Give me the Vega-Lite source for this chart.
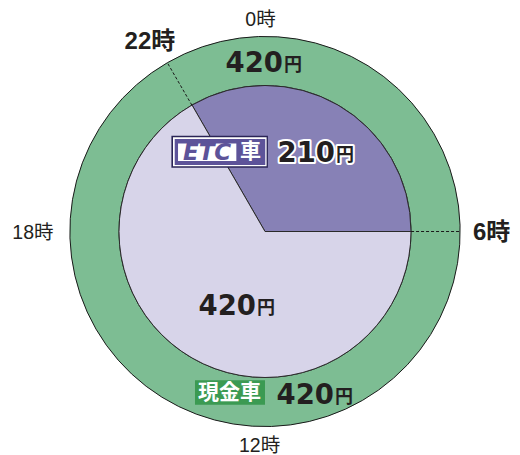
{
  "$schema": "https://vega.github.io/schema/vega-lite/v6.json",
  "width": 520,
  "height": 455,
  "autosize": {"type": "fit", "contains": "padding"},
  "padding": {"left": 10, "top": 9, "right": 0, "bottom": 0},
  "background": "white",
  "config": {"view": {"stroke": null}},
  "datasets": {
    "cash": [{"car": "現金車", "hours": 24, "fare": 420}],
    "etc": [
      {"car": "ETC車", "period": "22時〜6時", "hours": 8, "fare": 210, "order": 1},
      {"car": "ETC車", "period": "6時〜22時", "hours": 16, "fare": 420, "order": 2}
    ],
    "bounds": [
      {"hour": 6, "x": 0.749, "y": 0, "x2": 1, "y2": 0},
      {"hour": 22, "x": -0.3745, "y": 0.6486, "x2": -0.5, "y2": 0.866}
    ],
    "hours": [
      {"label": "0時", "kind": "quarter", "x": -0.023, "y": 1.056},
      {"label": "12時", "kind": "quarter", "x": -0.028, "y": -1.131},
      {"label": "18時", "kind": "quarter", "x": -1.19, "y": -0.036},
      {"label": "22時", "kind": "boundary", "x": -0.59, "y": 0.937},
      {"label": "6時", "kind": "boundary", "x": 1.162, "y": -0.044}
    ],
    "fares": [
      {"where": "ring-top", "fare": "420", "x": 0.0923, "y": 0.8205},
      {"where": "etc-night", "fare": "210", "x": 0.359, "y": 0.359},
      {"where": "etc-day", "fare": "420", "x": -0.0462, "y": -0.4308},
      {"where": "ring-bottom", "fare": "420", "x": 0.3538, "y": -0.8872}
    ],
    "badges": [
      {"part": "frame", "x": -0.48, "x2": 0.015, "y": 0.492, "y2": 0.328},
      {"part": "rim", "x": -0.4718, "x2": 0.0082, "y": 0.4841, "y2": 0.3359},
      {"part": "panel", "x": -0.463, "x2": 0.0015, "y": 0.4754, "y2": 0.3421},
      {"part": "plate", "x": -0.446, "x2": -0.147, "y": 0.4528, "y2": 0.3626},
      {"part": "cash", "x": -0.359, "x2": 0, "y": -0.764, "y2": -0.891}
    ],
    "badgeText": [
      {"text": "ETC", "x": -0.297, "y": 0.366},
      {"text": "車", "x": -0.0744, "y": 0.407},
      {"text": "現金車", "x": -0.182, "y": -0.828}
    ]
  },
  "layer": [
    {
      "data": {"name": "cash"},
      "mark": {"type": "arc", "innerRadius": 146, "outerRadius": 195, "fill": "#7dbd93", "stroke": "#1a1a1a", "strokeWidth": 1},
      "encoding": {
        "theta": {"field": "hours", "type": "quantitative", "stack": true, "scale": {"range": [-0.5236, 5.7596]}}
      }
    },
    {
      "data": {"name": "etc"},
      "mark": {"type": "arc", "outerRadius": 146, "stroke": "#2a2a2a", "strokeWidth": 1},
      "encoding": {
        "theta": {"field": "hours", "type": "quantitative", "stack": true, "scale": {"range": [-0.5236, 5.7596]}},
        "order": {"field": "order", "type": "ordinal"},
        "color": {"field": "period", "type": "nominal", "scale": {"domain": ["22時〜6時", "6時〜22時"], "range": ["#8781b6", "#d7d4e9"]}, "legend": null}
      }
    },
    {
      "data": {"name": "bounds"},
      "mark": {"type": "rule", "stroke": "#1a1a1a", "strokeWidth": 1, "strokeDash": [3, 2]},
      "encoding": {
        "x": {"field": "x", "type": "quantitative", "scale": {"domain": [-1.3077, 1.3077], "nice": false, "zero": false}, "axis": null},
        "y": {"field": "y", "type": "quantitative", "scale": {"domain": [-1.1436, 1.1436], "nice": false, "zero": false}, "axis": null},
        "x2": {"field": "x2"},
        "y2": {"field": "y2"}
      }
    },
    {
      "data": {"name": "badges"},
      "mark": {"type": "rect"},
      "encoding": {
        "x": {"field": "x", "type": "quantitative", "scale": {"domain": [-1.3077, 1.3077], "nice": false, "zero": false}, "axis": null},
        "y": {"field": "y", "type": "quantitative", "scale": {"domain": [-1.1436, 1.1436], "nice": false, "zero": false}, "axis": null},
        "x2": {"field": "x2"},
        "y2": {"field": "y2"},
        "fill": {"field": "part", "type": "nominal", "scale": {"domain": ["frame", "rim", "panel", "plate", "cash"], "range": ["#2a2456", "#ffffff", "#5d5399", "#ffffff", "#3b9a52"]}, "legend": null}
      }
    },
    {
      "data": {"name": "badgeText"},
      "transform": [{"filter": "datum.text === 'ETC'"}],
      "mark": {"type": "text", "font": "DejaVu Sans", "fontWeight": "bold", "fontStyle": "italic", "fontSize": 23, "fill": "#5d5399", "align": "center", "baseline": "alphabetic"},
      "encoding": {
        "x": {"field": "x", "type": "quantitative", "scale": {"domain": [-1.3077, 1.3077], "nice": false, "zero": false}, "axis": null},
        "y": {"field": "y", "type": "quantitative", "scale": {"domain": [-1.1436, 1.1436], "nice": false, "zero": false}, "axis": null},
        "text": {"field": "text"}
      }
    },
    {
      "data": {"name": "badgeText"},
      "transform": [{"filter": "datum.text !== 'ETC'"}],
      "mark": {"type": "text", "font": "Noto Sans CJK JP", "fontWeight": "bold", "fontSize": 21, "fill": "#ffffff", "align": "center", "baseline": "middle"},
      "encoding": {
        "x": {"field": "x", "type": "quantitative", "scale": {"domain": [-1.3077, 1.3077], "nice": false, "zero": false}, "axis": null},
        "y": {"field": "y", "type": "quantitative", "scale": {"domain": [-1.1436, 1.1436], "nice": false, "zero": false}, "axis": null},
        "text": {"field": "text"}
      }
    },
    {
      "data": {"name": "hours"},
      "transform": [{"filter": "datum.kind === 'quarter'"}],
      "mark": {"type": "text", "font": "Liberation Sans, Noto Sans CJK JP", "fontSize": 19.5, "fill": "#231f20", "align": "center", "baseline": "alphabetic"},
      "encoding": {
        "x": {"field": "x", "type": "quantitative", "scale": {"domain": [-1.3077, 1.3077], "nice": false, "zero": false}, "axis": null},
        "y": {"field": "y", "type": "quantitative", "scale": {"domain": [-1.1436, 1.1436], "nice": false, "zero": false}, "axis": null},
        "text": {"field": "label"}
      }
    },
    {
      "data": {"name": "hours"},
      "transform": [{"filter": "datum.kind === 'boundary'"}],
      "mark": {"type": "text", "font": "Liberation Sans, Noto Sans CJK JP", "fontWeight": "bold", "fontSize": 24, "fill": "#231f20", "align": "center", "baseline": "alphabetic"},
      "encoding": {
        "x": {"field": "x", "type": "quantitative", "scale": {"domain": [-1.3077, 1.3077], "nice": false, "zero": false}, "axis": null},
        "y": {"field": "y", "type": "quantitative", "scale": {"domain": [-1.1436, 1.1436], "nice": false, "zero": false}, "axis": null},
        "text": {"field": "label"}
      }
    },
    {
      "data": {"name": "fares"},
      "transform": [{"filter": "datum.where === 'etc-night'"}],
      "mark": {"type": "text", "font": "DejaVu Sans", "fontWeight": "bold", "fontSize": 27.5, "fill": "#ffffff", "stroke": "#ffffff", "strokeWidth": 4, "strokeJoin": "round", "align": "right", "baseline": "alphabetic"},
      "encoding": {
        "x": {"field": "x", "type": "quantitative", "scale": {"domain": [-1.3077, 1.3077], "nice": false, "zero": false}, "axis": null},
        "y": {"field": "y", "type": "quantitative", "scale": {"domain": [-1.1436, 1.1436], "nice": false, "zero": false}, "axis": null},
        "text": {"field": "fare"}
      }
    },
    {
      "data": {"name": "fares"},
      "transform": [{"filter": "datum.where === 'etc-night'"}],
      "mark": {"type": "text", "font": "Noto Sans CJK JP", "fontWeight": "bold", "fontSize": 18, "fill": "#ffffff", "stroke": "#ffffff", "strokeWidth": 4, "strokeJoin": "round", "align": "left", "baseline": "alphabetic", "dx": 1, "dy": -1},
      "encoding": {
        "x": {"field": "x", "type": "quantitative", "scale": {"domain": [-1.3077, 1.3077], "nice": false, "zero": false}, "axis": null},
        "y": {"field": "y", "type": "quantitative", "scale": {"domain": [-1.1436, 1.1436], "nice": false, "zero": false}, "axis": null},
        "text": {"value": "円"}
      }
    },
    {
      "data": {"name": "fares"},
      "mark": {"type": "text", "font": "DejaVu Sans", "fontWeight": "bold", "fontSize": 27.5, "fill": "#231f20", "align": "right", "baseline": "alphabetic"},
      "encoding": {
        "x": {"field": "x", "type": "quantitative", "scale": {"domain": [-1.3077, 1.3077], "nice": false, "zero": false}, "axis": null},
        "y": {"field": "y", "type": "quantitative", "scale": {"domain": [-1.1436, 1.1436], "nice": false, "zero": false}, "axis": null},
        "text": {"field": "fare"}
      }
    },
    {
      "data": {"name": "fares"},
      "mark": {"type": "text", "font": "Noto Sans CJK JP", "fontWeight": "bold", "fontSize": 18, "fill": "#231f20", "align": "left", "baseline": "alphabetic", "dx": 1, "dy": -1},
      "encoding": {
        "x": {"field": "x", "type": "quantitative", "scale": {"domain": [-1.3077, 1.3077], "nice": false, "zero": false}, "axis": null},
        "y": {"field": "y", "type": "quantitative", "scale": {"domain": [-1.1436, 1.1436], "nice": false, "zero": false}, "axis": null},
        "text": {"value": "円"}
      }
    }
  ]
}
